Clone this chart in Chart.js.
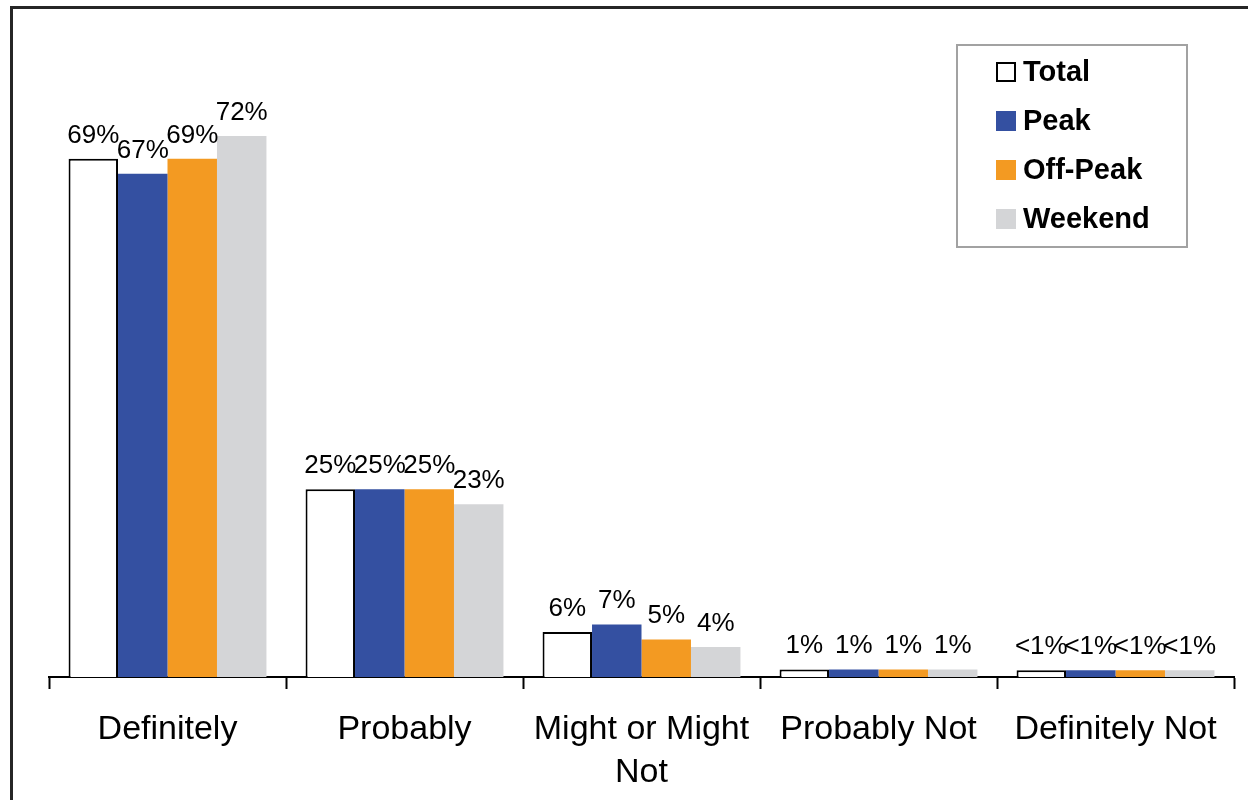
<!DOCTYPE html>
<html>
<head>
<meta charset="utf-8">
<title>Likelihood by time period</title>
<script src="https://cdn.jsdelivr.net/npm/chart.js@4.4.1/dist/chart.umd.min.js"></script>
<style>
  html, body { margin: 0; padding: 0; background: #ffffff; }
  #wrap { width: 1248px; height: 800px; position: relative; }
</style>
</head>
<body>
<div id="wrap"><canvas id="chart" width="1248" height="800"></canvas></div>
<script>
// Response categories (x axis)
const categories = [
  'Definitely',
  'Probably',
  ['Might or Might', 'Not'],
  'Probably Not',
  'Definitely Not'
];

// Series names
const seriesNames = ['Total', 'Peak', 'Off-Peak', 'Weekend'];

// Percent of respondents per category, one array per series
const totalValues   = [69, 25, 6, 1, 0.9];
const peakValues    = [67, 25, 7, 1, 0.9];
const offPeakValues = [69, 25, 5, 1, 0.9];
const weekendValues = [72, 23, 4, 1, 0.9];

const FONT = "'Liberation Sans', Arial, Helvetica, sans-serif";

function pctLabel(v) {
  return v < 1 ? '<1%' : Math.round(v) + '%';
}

// Value labels above each bar
const valueLabels = {
  id: 'valueLabels',
  afterDatasetsDraw(chart) {
    const ctx = chart.ctx;
    ctx.save();
    ctx.font = '26px ' + FONT;
    ctx.fillStyle = '#000000';
    ctx.textAlign = 'center';
    ctx.textBaseline = 'alphabetic';
    chart.data.datasets.forEach((ds, i) => {
      const meta = chart.getDatasetMeta(i);
      meta.data.forEach((bar, j) => {
        ctx.fillText(pctLabel(ds.data[j]), bar.x, bar.y - 16);
      });
    });
    ctx.restore();
  }
};

// Outer frame lines and the boxed legend in the upper right
const frameAndLegend = {
  id: 'frameAndLegend',
  afterDraw(chart) {
    const ctx = chart.ctx;
    ctx.save();
    // frame
    ctx.strokeStyle = '#262626';
    ctx.lineWidth = 3;
    ctx.beginPath();
    ctx.moveTo(11.5, 800);
    ctx.lineTo(11.5, 7.5);
    ctx.lineTo(1248, 7.5);
    ctx.stroke();

    // legend box
    ctx.strokeStyle = '#a2a2a2';
    ctx.lineWidth = 2;
    ctx.strokeRect(957, 45, 230, 202);

    ctx.font = 'bold 29px ' + FONT;
    ctx.textAlign = 'left';
    ctx.textBaseline = 'middle';
    chart.data.datasets.forEach((ds, i) => {
      const cy = 72 + i * 49;
      ctx.fillStyle = ds.backgroundColor;
      ctx.fillRect(996, cy - 10, 20, 20);
      if (ds.borderWidth) {
        ctx.strokeStyle = ds.borderColor;
        ctx.lineWidth = 2;
        ctx.strokeRect(997, cy - 9, 18, 18);
      }
      ctx.fillStyle = '#000000';
      ctx.fillText(ds.label, 1023, cy + 1);
    });
    ctx.restore();
  }
};

new Chart(document.getElementById('chart'), {
  type: 'bar',
  data: {
    labels: categories,
    datasets: [
      { label: seriesNames[0], data: totalValues,   backgroundColor: '#ffffff', borderColor: '#000000', borderWidth: 2 },
      { label: seriesNames[1], data: peakValues,    backgroundColor: '#3450a1', borderWidth: 0 },
      { label: seriesNames[2], data: offPeakValues, backgroundColor: '#f39a22', borderWidth: 0 },
      { label: seriesNames[3], data: weekendValues, backgroundColor: '#d4d5d7', borderWidth: 0 }
    ]
  },
  options: {
    responsive: false,
    animation: false,
    devicePixelRatio: 1,
    layout: { padding: { left: 49, right: 14, top: 76, bottom: 0 } },
    datasets: {
      bar: { categoryPercentage: 0.835, barPercentage: 1.0 }
    },
    plugins: {
      legend: { display: false },
      tooltip: { enabled: false },
      title: { display: false }
    },
    scales: {
      x: {
        offset: true,
        afterFit(scale) { scale.height = 123; },
        grid: {
          display: true,
          offset: true,
          drawOnChartArea: false,
          drawTicks: true,
          tickLength: 12,
          tickWidth: 2,
          tickColor: '#000000'
        },
        border: { display: true, color: '#000000', width: 2 },
        ticks: {
          color: '#000000',
          padding: 20,
          maxRotation: 0,
          autoSkip: false,
          font: { family: FONT, size: 34, lineHeight: 1.24 }
        }
      },
      y: {
        display: false,
        min: 0,
        max: 80
      }
    }
  },
  plugins: [valueLabels, frameAndLegend]
});
</script>
</body>
</html>
